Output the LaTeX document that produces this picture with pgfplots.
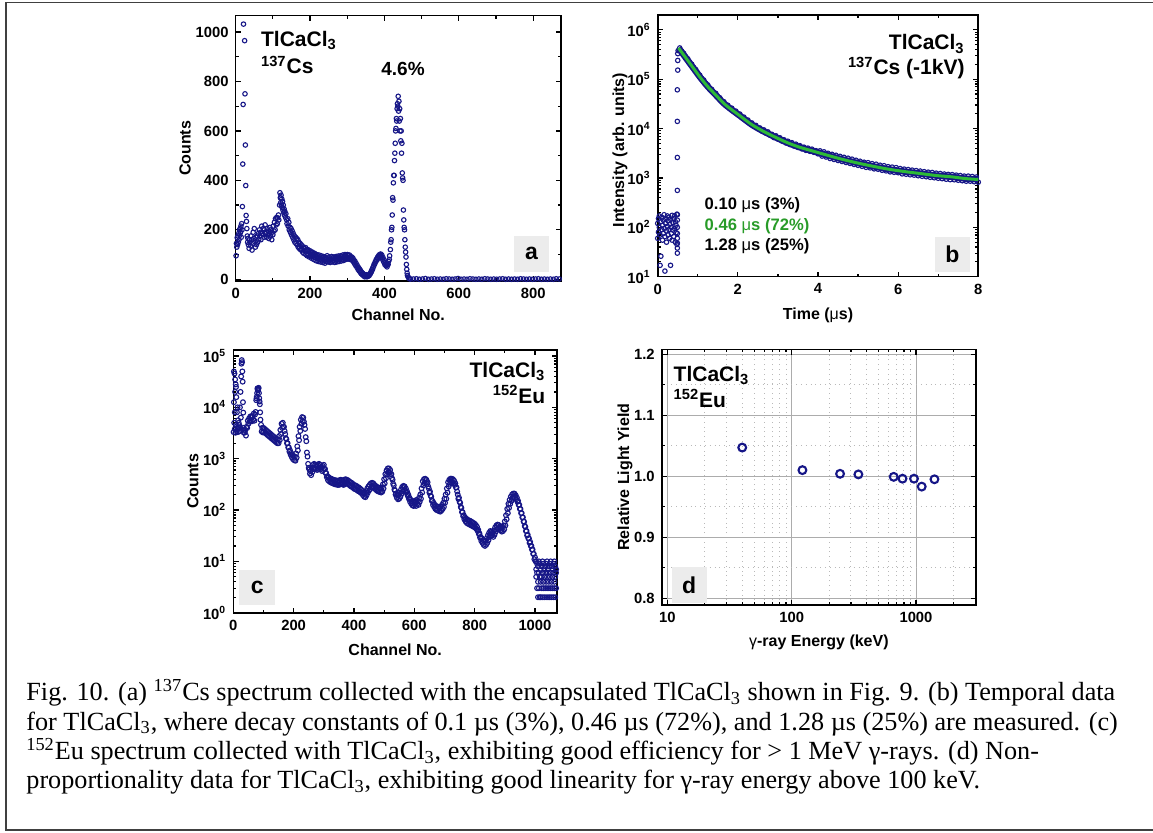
\documentclass[border=0pt]{standalone}
\usepackage{pgfplots}
\pgfplotsset{compat=1.18}
\usepackage{fontspec}
\setmainfont{Liberation Serif}
\newfontfamily\arial{Liberation Sans}
\definecolor{dnavy}{RGB}{22,22,135}
\definecolor{fitgreen}{RGB}{45,185,55}
\definecolor{txtgreen}{RGB}{40,155,40}
\definecolor{boxgray}{RGB}{236,236,236}
\pgfplotsset{
  panel/.style={
    scale only axis,
    clip mode=individual,
    axis line style={line width=0.8pt},
    tick style={line width=0.6pt, black},
    major tick length=2.6pt,
    minor tick length=1.5pt,
    tick align=inside,
    tick label style={font=\arial\bfseries\fontsize{7.4}{8}\selectfont},
    label style={font=\arial\bfseries\fontsize{8}{9}\selectfont},
    /pgf/number format/assume math mode=true,
    /pgf/number format/1000 sep={},
    scaled ticks=false,
  },
  dat/.style={only marks, mark=o, mark size=1.12pt, color=dnavy, mark options={line width=0.55pt}},
}
\newcommand{\ptxt}{\arial\bfseries\fontsize{10.5}{12}\selectfont}
\newcommand{\ltr}{\arial\bfseries\fontsize{11.5}{12}\selectfont}
\begin{document}
\begin{tikzpicture}
\useasboundingbox (0,0) rectangle (576.5pt,416pt);
\draw[line width=0.7pt, black!75] (576.5pt,414.65pt) -- (3pt,414.65pt) -- (3pt,1pt) -- (576.5pt,1pt);

% ---------------- panel a ----------------
\begin{axis}[panel, at={(117.85pt,275.5pt)}, anchor=south west, width=162.5pt, height=132.65pt,
  xmin=0, xmax=874, ymin=-7, ymax=1066,
  xtick={0,200,400,600,800}, ytick={0,200,400,600,800,1000},
  minor x tick num=1, minor y tick num=1,
  xlabel={Channel No.}, ylabel={Counts},
  xlabel style={at={(axis description cs:0.5,-0.128)},anchor=center},
  ylabel style={at={(axis description cs:-0.156,0.5)},anchor=center}]
\addplot[dat] coordinates {
(1,95)(2,145)(3,130)(4,168)(5,140)(6,175)(7,150)(8,185)(9,160)(10,200)(11,178)(12,205)(13,190)(14,215)(15,170)(16,225)(17,200)
(18,294)(19,466)(20,707)(21,1032)(24,965)(25,750)(26,543)(27,379)(28,258)(29,234)(30,205)(31,175)(32,150)(33,165)(34,140)
(36,125)(37,160)(38,150)(40,135)(41,175)(43,160)(44,118)(46,145)(47,190)(49,165)(50,205)(52,150)(53,130)(55,170)(56,140)
(58,175)(59,150)(61,185)(62,160)(64,200)(65,175)(67,190)(68,160)(70,215)(71,185)(73,180)(74,205)(76,170)(77,200)(79,220)
(80,185)(82,190)(83,170)(85,205)(86,180)(88,195)(89,165)(91,185)(92,210)(94,175)(95,200)(97,160)(98,190)(100,180)(101,215)
(103,195)(104,230)(106,200)(107,245)(109,220)(110,250)(112,225)(113,248)(115,260)(116,240)(118,300)(119,350)(120,330)
(121,310)(122,340)(123,300)(124,325)(125,290)(126,315)(127,280)(128,300)(129,270)(130,285)(131,260)(132,275)(134,250)
(135,265)(137,240)(138,225)(140,245)(141,215)(143,230)(144,200)(146,210)(147,190)(149,205)(150,180)(152,195)(153,170)
(155,185)(156,160)(158,175)(159,150)(161,170)(162,145)(164,165)(165,140)(167,160)(168,130)(170,150)(171,125)(173,145)
(174,120)(176,140)(177,118)(179,135)(180,110)(182,130)(183,105)(185,125)(186,115)(188,128)(189,100)(191,118)(192,95)
(194,120)(195,100)(197,112)(198,90)(200,115)(201,95)(203,108)(204,85)(206,110)(207,92)(209,100)(210,80)(212,105)(213,88)
(215,98)(216,75)(218,100)(219,85)(221,95)(222,72)(224,98)(225,80)(227,90)(228,70)(230,95)(231,78)(233,88)(234,68)(236,92)
(237,75)(239,85)(240,65)(242,88)(243,72)(245,80)(246,95)(248,70)(249,85)(251,75)(252,90)(254,68)(255,82)(257,78)(258,92)
(260,70)(261,85)(263,76)(264,90)(266,68)(267,84)(269,78)(270,92)(272,70)(273,86)(275,80)(276,94)(278,72)(279,88)(281,80)
(282,95)(284,74)(285,90)(287,82)(288,98)(290,76)(291,92)(293,84)(294,100)(296,80)(297,95)(299,88)(300,100)(302,82)(303,96)
(305,86)(306,98)(308,80)(309,92)(311,82)(312,90)(314,76)(315,86)(317,70)(318,78)(320,62)(321,72)(323,55)(324,64)(326,48)
(327,56)(329,40)(330,48)(332,34)(333,42)(335,28)(336,35)(338,22)(339,28)(341,18)(342,24)(344,14)(345,20)(347,10)(348,16)
(350,12)(351,18)(353,10)(354,14)(356,12)(357,18)(359,15)(360,20)(362,22)(363,28)(365,30)(366,38)(368,40)(369,48)(371,52)
(372,60)(374,62)(375,70)(377,72)(378,80)(380,78)(381,88)(383,85)(384,95)(386,92)(387,100)(389,95)(390,102)(392,90)(393,98)
(395,80)(396,88)(398,70)(399,78)(401,60)(402,68)(404,55)(405,62)(407,50)(408,58)(410,60)(411,72)(413,80)(414,95)(416,120)
(417,150)(418,160)(419,200)(420,210)(421,260)(422,330)(423,320)(424,390)(425,420)(426,420)(427,480)(428,510)(429,550)
(430,600)(431,610)(432,650)(433,640)(434,690)(435,710)(436,700)(437,740)(438,680)(439,720)(440,640)(441,690)(442,600)
(443,650)(444,560)(445,600)(446,510)(447,550)(448,430)(449,410)(450,400)(451,280)(452,240)(453,210)(454,200)(455,160)
(456,130)(457,110)(458,90)(459,60)(460,40)(461,25)(462,15)(464,8)(466,4)(468,2)(470,1)
(478,1)(486,2)(494,0)(502,1)(510,3)(518,0)(526,1)(534,2)(542,0)(550,1)(558,0)(566,2)(574,1)(582,0)(590,1)(598,3)(606,0)
(614,1)(622,0)(630,2)(638,1)(646,0)(654,1)(662,0)(670,2)(678,1)(686,0)(694,1)(702,0)(710,1)(718,2)(726,0)(734,1)(742,0)
(750,1)(758,0)(766,2)(774,1)(782,0)(790,1)(798,0)(806,1)(814,2)(822,0)(830,1)(838,0)(846,1)(854,0)(862,2)(870,1)
};
\end{axis}

% ---------------- panel b ----------------
\begin{axis}[panel, ymode=log, at={(328.85pt,277.65pt)}, anchor=south west, width=160.3pt, height=130.85pt,
  xmin=0, xmax=8, ymin=10, ymax=2000000,
  xtick={0,2,4,6,8}, minor x tick num=1,
  ytick={10,100,1000,10000,100000,1000000},
  yticklabels={10\textsuperscript{1},10\textsuperscript{2},10\textsuperscript{3},10\textsuperscript{4},10\textsuperscript{5},10\textsuperscript{6}},
  minor ytick={20,30,40,50,60,70,80,90,200,300,400,500,600,700,800,900,2000,3000,4000,5000,6000,7000,8000,9000,20000,30000,40000,50000,60000,70000,80000,90000,200000,300000,400000,500000,600000,700000,800000,900000,2000000},
  xlabel={Time ({\mdseries μ}s)}, ylabel={Intensity (arb. units)},
  xlabel style={at={(axis description cs:0.5,-0.146)},anchor=center},
  ylabel style={at={(axis description cs:-0.118,0.484)},anchor=center}]
\addplot[dat] coordinates {
(0.00,120)(0.00,60)(0.02,150)(0.02,80)(0.04,100)(0.04,170)(0.06,17)(0.06,70)(0.08,26)(0.08,130)(0.10,90)(0.10,160)
(0.12,55)(0.12,110)(0.14,140)(0.14,75)(0.16,180)(0.16,95)(0.18,13)(0.18,65)(0.20,120)(0.20,150)(0.22,85)(0.22,50)
(0.24,170)(0.24,105)(0.26,70)(0.26,135)(0.28,160)(0.28,90)(0.30,60)(0.30,115)(0.32,17)(0.32,145)(0.34,100)(0.34,75)
(0.36,175)(0.36,55)(0.38,125)(0.38,88)(0.40,150)(0.40,65)(0.42,95)(0.42,170)(0.44,50)(0.44,130)(0.46,110)(0.46,78)
(0.48,45)(0.48,185)
(0.49,30)(0.49,38)(0.49,48)(0.49,60)(0.49,75)(0.49,100)(0.49,140)(0.49,180)(0.49,560)(0.49,2600)(0.49,14000)
(0.49,61000)(0.50,153000)(0.50,240000)(0.50,330000)(0.51,380000)
};
% dense measured trace (band)
\addplot[dnavy, line width=3.2pt, smooth] coordinates {
(0.52,430000)(0.65,309000)(0.85,186000)(1.05,112000)(1.25,70800)(1.45,47900)(1.65,32400)(1.85,24000)(2.05,18200)
(2.35,12000)(2.65,8710)(2.95,6610)(3.25,5130)(3.55,4170)(3.85,3550)(4.15,3020)(4.55,2450)(4.95,2040)(5.35,1740)
(5.75,1510)(6.15,1350)(6.55,1230)(6.95,1120)(7.35,1050)(7.65,977)(8.0,930)
};
\addplot[dat] coordinates {
(0.55,430000)(0.60,370000)(0.65,334000)(0.70,287000)(0.75,259000)(0.80,223000)(0.85,201000)(0.90,173000)(0.95,157000)
(1.00,135000)(1.05,121000)(1.10,104000)(1.15,96200)(1.20,82900)(1.25,76500)(1.30,65800)(1.35,62100)(1.40,53500)
(1.45,51700)(1.50,44500)(1.55,42000)(1.60,36200)(1.65,35000)(1.70,30100)(1.75,29700)(1.80,25600)(1.85,25900)(1.90,22300)
(1.95,22600)(2.00,19400)(2.05,19700)(2.10,16900)(2.15,17100)(2.20,14700)(2.25,14900)(2.30,12800)(2.35,13000)(2.40,11200)
(2.45,11600)(2.50,9950)(2.55,10300)(2.60,8880)(2.65,9410)(2.70,8100)(2.75,8580)(2.80,7380)(2.85,7650)(2.90,6580)
(2.95,7140)(3.00,6150)(3.05,6510)(3.10,5610)(3.15,5940)(3.20,5120)(3.25,5540)(3.30,4770)(3.35,5170)(3.40,4450)
(3.45,4830)(3.50,4160)(3.55,4500)(3.60,3880)(3.65,4200)(3.70,3620)(3.75,4020)(3.80,3460)(3.85,3830)(3.90,3300)
(3.95,3570)(4.00,3080)(4.05,3540)(4.10,2780)(4.15,3380)(4.20,2660)(4.25,3160)(4.30,2480)(4.35,3010)(4.40,2370)
(4.45,2880)(4.50,2260)(4.55,2740)(4.60,2160)(4.65,2620)(4.70,2060)(4.75,2510)(4.80,1970)(4.85,2400)(4.90,1880)
(4.95,2280)(5.00,1800)(5.05,2180)(5.10,1720)(5.15,2080)(5.20,1640)(5.25,2040)(5.30,1600)(5.35,1950)(5.40,1530)
(5.45,1900)(5.50,1500)(5.55,1810)(5.60,1430)(5.65,1770)(5.70,1390)(5.75,1690)(5.80,1330)(5.85,1660)(5.90,1300)
(5.95,1620)(6.00,1280)(6.05,1550)(6.10,1210)(6.15,1510)(6.20,1190)(6.25,1480)(6.30,1160)(6.35,1440)(6.40,1140)
(6.45,1410)(6.50,1110)(6.55,1380)(6.60,1080)(6.65,1340)(6.70,1060)(6.75,1310)(6.80,1030)(6.85,1290)(6.90,1010)
(6.95,1250)(7.00,986)(7.05,1230)(7.10,968)(7.15,1200)(7.20,942)(7.25,1180)(7.30,924)(7.35,1170)(7.40,920)
(7.45,1140)(7.50,898)(7.55,1120)(7.60,880)(7.65,1090)(7.70,860)(7.75,1090)(7.80,860)(7.85,1070)(7.90,840)
(7.95,1045)(8.00,821)
};
\addplot[fitgreen, line width=1.5pt, smooth] coordinates {
(0.52,430000)(0.65,309000)(0.85,186000)(1.05,112000)(1.25,70800)(1.45,47900)(1.65,32400)(1.85,24000)(2.05,18200)
(2.35,12000)(2.65,8710)(2.95,6610)(3.25,5130)(3.55,4170)(3.85,3550)(4.15,3020)(4.55,2450)(4.95,2040)(5.35,1740)
(5.75,1510)(6.15,1350)(6.55,1230)(6.95,1120)(7.35,1050)(7.65,977)(8.0,930)
};
\end{axis}

% ---------------- panel c ----------------
\begin{axis}[panel, ymode=log, at={(116.65pt,109.65pt)}, anchor=south west, width=161.85pt, height=131.35pt,
  xmin=0, xmax=1073, ymin=1, ymax=131000,
  xtick={0,200,400,600,800,1000}, minor x tick num=1,
  ytick={1,10,100,1000,10000,100000},
  yticklabels={10\textsuperscript{0},10\textsuperscript{1},10\textsuperscript{2},10\textsuperscript{3},10\textsuperscript{4},10\textsuperscript{5}},
  minor ytick={2,3,4,5,6,7,8,9,20,30,40,50,60,70,80,90,200,300,400,500,600,700,800,900,2000,3000,4000,5000,6000,7000,8000,9000,20000,30000,40000,50000,60000,70000,80000,90000},
  xlabel={Channel No.}, ylabel={Counts},
  xlabel style={at={(axis description cs:0.5,-0.142)},anchor=center},
  ylabel style={at={(axis description cs:-0.125,0.5)},anchor=center}]
\addplot[dat, mark size=1.2pt] coordinates {
(1,3300)(2,12600)(2,50000)(3,5000)(4,45700)(5,3800)(5,8000)(6,20000)(6,35000)(7,3200)(8,28000)(9,4500)(9,25000)
(10,15800)(11,3500)(12,8000)(13,4000)(14,10000)(15,3300)(16,5600)(17,4000)(18,5000)(19,3400)(20,4500)(22,10000)
(23,4000)(24,20000)(25,6300)(26,40000)(27,70800)(28,83200)(29,75900)(30,50100)(31,31600)(32,12600)(33,7900)(34,4000)(35,3200)
(36,3630)(38,3240)(40,3630)(42,2820)(44,4170)(46,3980)(48,5500)(50,4790)(52,6030)(54,5250)(56,6610)(58,5370)(60,6760)
(62,5370)(64,6610)(66,5750)(68,7590)(70,5500)(72,7240)(74,8130)(76,13800)(78,16200)(80,23400)(82,21400)(84,24000)
(86,15100)(88,11500)(90,5750)(92,4570)(94,3390)(96,3980)(98,3240)
(77,15000)(79,19000)(81,22000)(83,23000)(85,19000)(87,13000)(89,8000)
(100,3980)(102,3310)(104,3800)(106,3160)(108,3630)(110,3020)(112,3470)(114,2880)(116,3310)(118,2750)(120,3160)(122,2630)
(124,3020)(126,2510)(128,2880)(130,2400)(132,2750)(134,2290)(136,2630)(138,2190)(140,2510)(142,2090)(144,2400)(146,2000)
(148,2400)(150,2000)(152,2750)(154,2290)(156,3630)(158,3020)(160,4790)(162,3980)(164,5010)(166,4170)(168,4170)(170,3470)
(172,3020)(174,2510)(176,2400)(178,2000)(180,2000)(182,1660)(184,1660)(186,1380)(188,1450)(190,1200)(192,1290)(194,1070)
(196,1170)(198,977)(200,1120)(202,933)(204,1100)(206,912)(208,1260)(210,1050)(212,1740)(214,1450)(216,2750)(218,2290)
(220,4170)(222,3470)(224,5750)(226,4790)(228,6460)(230,5370)(232,6310)(234,5250)(236,4570)(238,3800)(240,2630)(242,2190)
(244,1320)(246,1100)(248,794)(250,661)(252,617)(254,513)(256,575)(258,479)(260,661)(262,550)(264,759)(266,631)
(268,794)(270,661)(272,759)(274,631)(276,724)(278,603)(280,759)(282,631)(284,794)(286,661)(288,759)(290,631)
(292,692)(294,575)(296,724)(298,603)(300,759)(302,631)(304,631)(306,525)(308,525)(310,437)(312,457)(314,380)
(316,437)(318,363)(320,417)(322,347)(324,407)(326,339)(328,398)(330,331)(332,389)(334,324)(336,380)(338,316)
(340,380)(342,316)(344,372)(346,309)(348,372)(350,309)(352,380)(354,316)(356,389)(358,324)(360,380)(362,316)
(364,372)(366,309)(368,389)(370,324)(372,398)(374,331)(376,389)(378,324)(380,380)(382,316)(384,363)(386,302)
(388,347)(390,288)(392,339)(394,282)(396,324)(398,269)(400,309)(402,257)(404,302)(406,251)(408,295)(410,245)
(412,282)(414,234)(416,275)(418,229)(420,263)(422,219)(424,251)(426,209)(428,234)(430,195)(432,219)(434,182)
(436,214)(438,178)(440,234)(442,195)(444,263)(446,219)(448,288)(450,240)(452,309)(454,257)(456,331)(458,275)
(460,339)(462,282)(464,331)(466,275)(468,309)(470,257)(472,295)(474,245)(476,282)(478,234)(480,275)(482,229)
(484,269)(486,224)(488,263)(490,219)(492,275)(494,229)(496,316)(498,263)(500,398)(502,331)(504,501)(506,417)
(508,589)(510,490)(512,646)(514,537)(516,646)(518,537)(520,603)(522,501)(524,501)(526,417)(528,389)(530,324)
(532,302)(534,251)(536,240)(538,200)(540,209)(542,174)(544,195)(546,162)(548,200)(550,166)(552,219)(554,182)
(556,251)(558,209)(560,282)(562,234)(564,295)(566,245)(568,288)(570,240)(572,263)(574,219)(576,229)(578,191)
(580,200)(582,166)(584,174)(586,145)(588,158)(590,132)(592,148)(594,123)(596,145)(598,120)(600,151)(602,126)
(604,145)(606,120)(608,158)(610,132)(612,151)(614,126)(616,174)(618,145)(620,200)(622,166)(624,263)(626,219)
(628,363)(630,302)(632,398)(634,331)(636,407)(638,339)(640,389)(642,324)(644,347)(646,288)(648,263)(650,219)
(652,229)(654,191)(656,182)(658,151)(660,151)(662,126)(664,138)(666,115)(668,126)(670,105)(672,120)(674,100)
(676,117)(678,98)(680,115)(682,95)(684,112)(686,93)(688,117)(690,98)(692,126)(694,105)(696,138)(698,115)
(700,166)(702,138)(704,200)(706,166)(708,263)(710,219)(712,347)(714,288)(716,389)(718,324)(720,407)(722,339)
(724,407)(726,339)(728,398)(730,331)(732,372)(734,309)(736,331)(738,275)(740,275)(742,229)(744,200)(746,166)
(748,174)(750,145)(752,138)(754,115)(756,110)(758,91)(760,91)(762,76)(764,79)(766,66)(768,72)(770,60)
(772,68)(774,56)(776,65)(778,54)(780,63)(782,53)(784,62)(786,51)(788,60)(790,50)(792,58)(794,48)(796,56)(798,47)
(800,54)(802,45)(804,51)(806,43)(808,47)(810,39)(812,41)(814,34)(816,35)(818,29)(820,30)(822,25)(824,28)(826,23)
(828,26)(830,21)(832,25)(834,20)(836,25)(838,21)(840,28)(842,23)(844,32)(846,26)(848,36)(850,30)(852,39)(854,32)
(856,38)(858,32)(860,36)(862,30)(864,40)(866,33)(868,46)(870,38)(872,50)(874,42)(876,52)(878,44)(880,51)(882,43)
(884,48)(886,40)(888,46)(890,38)(892,47)(894,39)(896,50)(898,42)(900,60)(902,50)(904,79)(906,66)(908,105)(910,87)
(912,132)(914,110)(916,158)(918,132)(920,182)(922,151)(924,200)(926,166)(928,209)(930,174)(932,209)(934,174)
(936,195)(938,162)(940,174)(942,145)(944,151)(946,126)(948,126)(950,105)(952,105)(954,87)(956,87)(958,72)
(960,72)(962,60)(964,59)(966,49)(968,47)(970,39)(972,39)(974,32)(976,33)(978,28)(980,28)(982,23)(984,24)(986,20)
(988,20)(990,17)(992,17)(994,14)(996,14)(998,11)(1000,12)(1002,10)
(1004,10)(1004,7)(1004,5)(1007,9)(1007,6)(1007,3)(1010,8)(1010,4)(1010,2)(1013,10)(1013,6)(1013,3)(1016,9)(1016,5)(1016,2)
(1019,7)(1019,4)(1019,2)(1022,8)(1022,5)(1022,3)(1025,10)(1025,6)(1025,2)(1028,9)(1028,4)(1028,3)(1031,7)(1031,5)(1031,2)
(1034,8)(1034,6)(1034,3)(1037,9)(1037,4)(1037,2)(1040,10)(1040,5)(1040,3)(1043,7)(1043,6)(1043,2)(1046,8)(1046,4)(1046,3)
(1049,9)(1049,5)(1049,2)(1052,6)(1052,3)(1052,10)(1055,8)(1055,4)(1055,2)(1058,7)(1058,5)(1058,3)(1061,9)(1061,6)(1061,2)
(1064,10)(1064,4)(1064,3)(1067,8)(1067,5)(1067,2)(1070,7)(1070,6)(1070,3)
};
\end{axis}

% ---------------- panel d ----------------
\begin{axis}[panel, xmode=log, at={(330.85pt,113.5pt)}, anchor=south west, width=157.15pt, height=127.85pt,
  xmin=9, xmax=3040, ymin=0.789, ymax=1.208,
  xtick={10,100,1000}, xticklabels={10,100,1000},
  minor xtick={20,30,40,50,60,70,80,90,200,300,400,500,600,700,800,900,2000,3000},
  ytick={0.8,0.9,1.0,1.1,1.2}, yticklabels={0.8,0.9,1.0,1.1,1.2},
  minor ytick={0.85,0.95,1.05,1.15},
  grid=both,
  major grid style={gray!65, line width=0.4pt},
  minor grid style={gray!55, dotted, line width=0.5pt},
  xlabel={{\mdseries γ}-ray Energy (keV)}, ylabel={Relative Light Yield},
  xlabel style={at={(axis description cs:0.5,-0.145)},anchor=center},
  ylabel style={at={(axis description cs:-0.117,0.5)},anchor=center}]
\addplot[only marks, mark=o, mark size=1.95pt, color=dnavy, mark options={line width=1.05pt}] coordinates {
(40,1.047)(122,1.010)(245,1.004)(344,1.003)(662,0.999)(779,0.996)(964,0.996)(1112,0.983)(1408,0.995)
};
\end{axis}

% ---------------- in-plot texts ----------------
\node[anchor=base west, inner sep=0, font=\ptxt] at (130.35pt,392.65pt) {TlCaCl\textsubscript{3}};
\node[anchor=base west, inner sep=0, font=\ptxt] at (130.35pt,379pt) {\textsuperscript{137}Cs};
\node[anchor=base, inner sep=0, font=\arial\bfseries\fontsize{9.5}{11}\selectfont] at (201.5pt,378pt) {4.6\%};
\fill[boxgray] (257pt,280pt) rectangle (274.5pt,298pt);
\node[inner sep=0, font=\ltr] at (265.75pt,289.3pt) {a};

\node[anchor=base east, inner sep=0, font=\ptxt] at (482.5pt,391pt) {TlCaCl\textsubscript{3}};
\node[anchor=base east, inner sep=0, font=\ptxt] at (482.5pt,378.5pt) {\textsuperscript{137}Cs (-1kV)};
\node[anchor=base west, inner sep=0, font=\arial\bfseries\fontsize{8.3}{10}\selectfont] at (352.15pt,311.35pt) {0.10 {\mdseries μ}s (3\%)};
\node[anchor=base west, inner sep=0, font=\arial\bfseries\fontsize{8.3}{10}\selectfont, text=txtgreen] at (352.15pt,300.5pt) {0.46 {\mdseries μ}s (72\%)};
\node[anchor=base west, inner sep=0, font=\arial\bfseries\fontsize{8.3}{10}\selectfont] at (352.15pt,290.65pt) {1.28 {\mdseries μ}s (25\%)};
\fill[boxgray] (467.5pt,280.15pt) rectangle (485pt,297.65pt);
\node[inner sep=0, font=\ltr] at (476.25pt,288.9pt) {b};

\node[anchor=base east, inner sep=0, font=\ptxt] at (272.85pt,227.35pt) {TlCaCl\textsubscript{3}};
\node[anchor=base east, inner sep=0, font=\ptxt] at (272.85pt,214.35pt) {\textsuperscript{152}Eu};
\fill[boxgray] (119.65pt,113.5pt) rectangle (137.5pt,131pt);
\node[inner sep=0, font=\ltr] at (128.6pt,122.5pt) {c};

\node[anchor=base west, inner sep=0, font=\ptxt] at (336.65pt,225.5pt) {TlCaCl\textsubscript{3}};
\node[anchor=base west, inner sep=0, font=\ptxt] at (336.65pt,212.35pt) {\textsuperscript{152}Eu};
\fill[boxgray] (335.85pt,114.35pt) rectangle (353.35pt,132.35pt);
\node[inner sep=0, font=\ltr] at (344.6pt,123.5pt) {d};

% ---------------- caption ----------------
\begin{scope}[every node/.style={anchor=base west, inner sep=0, font=\fontsize{13.1}{14.65}\selectfont}]
\node at (13pt,65.65pt) {Fig. 10. (a) \textsuperscript{137}Cs spectrum collected with the encapsulated TlCaCl\textsubscript{3} shown in Fig. 9. (b) Temporal data};
\node at (13pt,51pt) {for TlCaCl\textsubscript{3}, where decay constants of 0.1 µs (3\%), 0.46 µs (72\%), and 1.28 µs (25\%) are measured. (c)};
\node at (13pt,36.35pt) {\textsuperscript{152}Eu spectrum collected with TlCaCl\textsubscript{3}, exhibiting good efficiency for > 1 MeV γ-rays. (d) Non-};
\node at (13pt,21.7pt) {proportionality data for TlCaCl\textsubscript{3}, exhibiting good linearity for γ-ray energy above 100 keV.};
\end{scope}
\end{tikzpicture}
\end{document}
